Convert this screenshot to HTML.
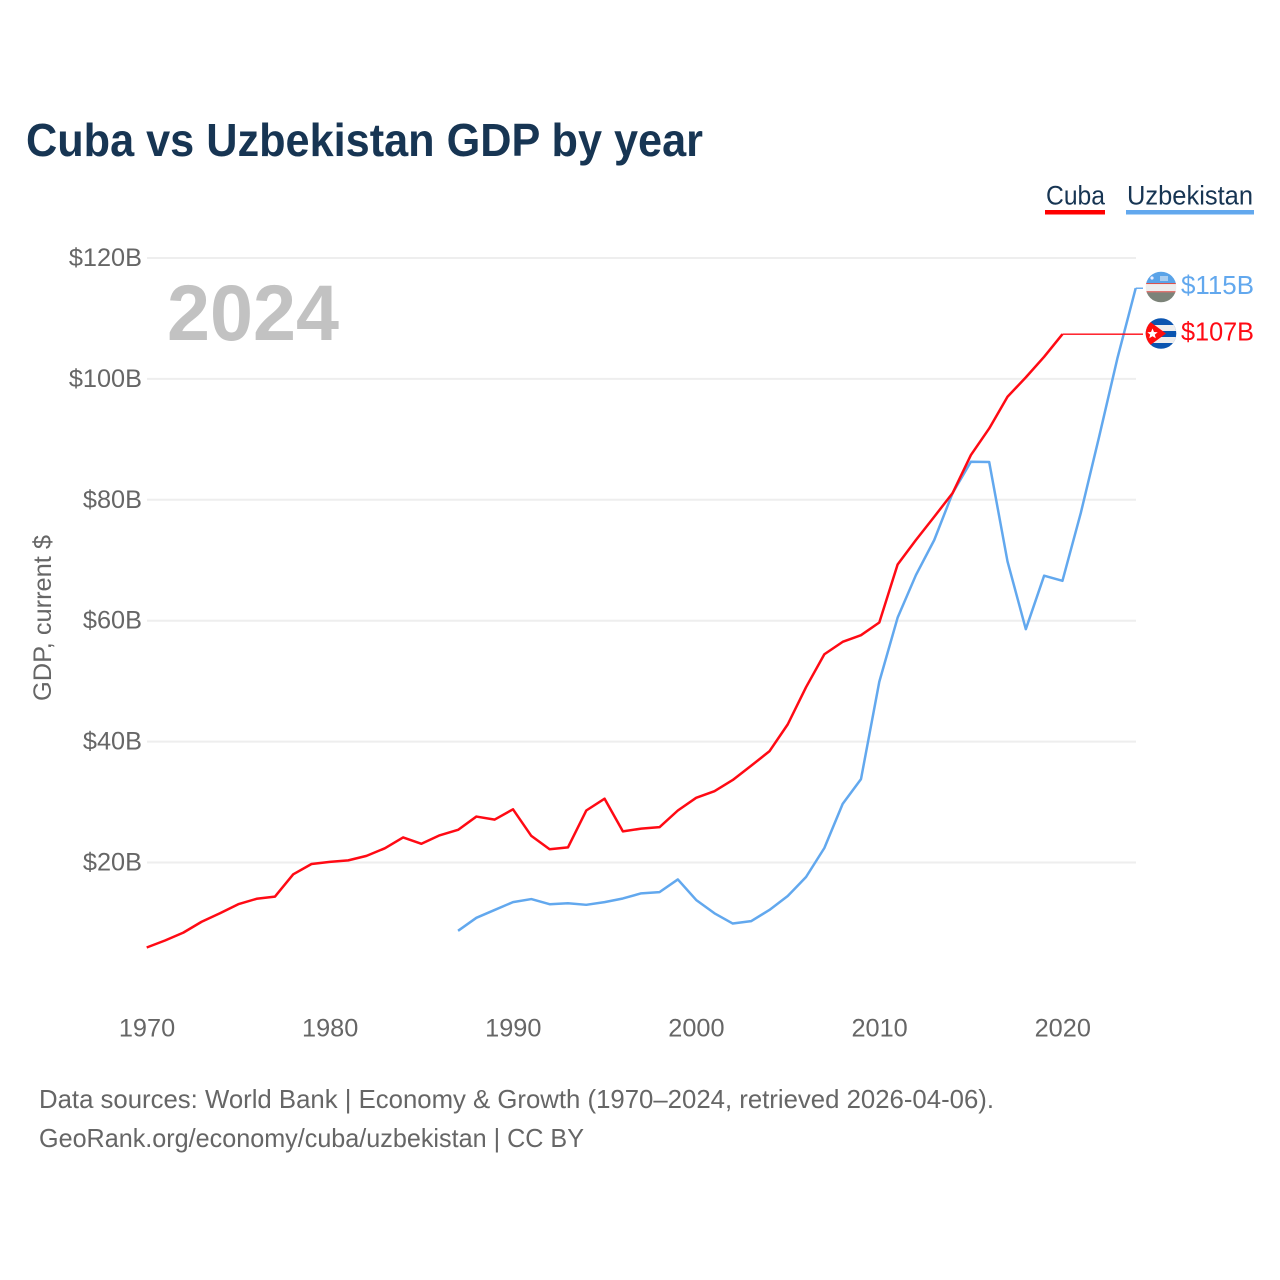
<!DOCTYPE html>
<html lang="en">
<head>
<meta charset="utf-8">
<title>Cuba vs Uzbekistan GDP by year</title>
<style>
html,body{margin:0;padding:0;background:#fff;width:1280px;height:1280px;overflow:hidden}
svg{display:block}
text{font-family:"Liberation Sans",sans-serif}
.tick{font-size:25.3px;fill:#666}
</style>
</head>
<body>
<svg id="chart" xmlns="http://www.w3.org/2000/svg" width="1280" height="1280" viewBox="0 0 1280 1280">
  <defs>
    <clipPath id="clip-uz"><circle cx="1161" cy="287" r="15.3"/></clipPath>
    <clipPath id="clip-cu"><circle cx="1161" cy="333.5" r="15.3"/></clipPath>
  </defs>
  <text x="26" y="156" font-size="46.5" font-weight="700" fill="#173553" textLength="677" lengthAdjust="spacingAndGlyphs">Cuba vs Uzbekistan GDP by year</text>

  <g>
    <text x="1046" y="204.5" font-size="26.5" fill="#173553" textLength="59" lengthAdjust="spacingAndGlyphs">Cuba</text>
    <rect x="1045" y="210" width="60" height="4.5" fill="#ff0000"/>
  </g>
  <g>
    <text x="1127" y="204.5" font-size="26.5" fill="#173553" textLength="126" lengthAdjust="spacingAndGlyphs">Uzbekistan</text>
    <rect x="1126" y="210" width="128" height="4.5" fill="#62a8ee"/>
  </g>

  <g id="grid"></g>
  <g id="yticks"></g>
  <g id="xticks"></g>

  <text x="167" y="340" font-size="79" font-weight="700" fill="#c2c2c2" textLength="172" lengthAdjust="spacingAndGlyphs">2024</text>
  <text transform="translate(51,618) rotate(-90)" text-anchor="middle" font-size="25" fill="#666" textLength="166" lengthAdjust="spacingAndGlyphs">GDP, current $</text>

  <g id="series"></g>

  <g clip-path="url(#clip-uz)">
    <rect x="1145" y="271" width="32" height="12" fill="#5aa3e8"/>
    <rect x="1145" y="283" width="32" height="1.2" fill="#d9534f"/>
    <rect x="1145" y="284.2" width="32" height="7" fill="#eeeeee"/>
    <rect x="1145" y="291.2" width="32" height="1.2" fill="#d9534f"/>
    <rect x="1145" y="292.4" width="32" height="11" fill="#7c8379"/>
    <circle cx="1152" cy="278" r="1.6" fill="#eef"/>
    <rect x="1160" y="276" width="8" height="5" fill="#a9cdf0"/>
  </g>
  <g clip-path="url(#clip-cu)">
    <rect x="1145" y="318" width="32" height="32" fill="#0b55b0"/>
    <rect x="1145" y="325" width="32" height="6" fill="#eeeeee"/>
    <rect x="1145" y="337" width="32" height="6" fill="#eeeeee"/>
    <polygon points="1145,318 1166,333.5 1145,349" fill="#ff0d0d"/>
    <polygon points="1152.5,328.5 1154,332 1157.7,332.2 1154.8,334.6 1155.8,338.2 1152.5,336.2 1149.2,338.2 1150.2,334.6 1147.3,332.2 1151,332" fill="#ffffff"/>
  </g>
  <g id="endlabels"></g>

  <text x="39" y="1108" font-size="26" fill="#666" textLength="955" lengthAdjust="spacingAndGlyphs">Data sources: World Bank | Economy &amp; Growth (1970–2024, retrieved 2026-04-06).</text>
  <a><text x="39" y="1147" font-size="26" fill="#666" textLength="545" lengthAdjust="spacingAndGlyphs">GeoRank.org/economy/cuba/uzbekistan | CC BY</text></a>
</svg>
<script>
const yTickValues = [20, 40, 60, 80, 100, 120];
const xTickYears = [1970, 1980, 1990, 2000, 2010, 2020];
const cubaStartYear = 1970;
const cubaValues = [5.94,7.1,8.4,10.2,11.6,13.1,14.0,14.35,18.05,19.75,20.1,20.35,21.1,22.35,24.15,23.1,24.5,25.4,27.6,27.1,28.8,24.4,22.2,22.5,28.6,30.55,25.15,25.6,25.85,28.6,30.7,31.8,33.65,36.0,38.4,42.85,49.0,54.45,56.5,57.6,59.7,69.3,73.35,77.2,81.1,87.4,91.8,97.05,100.25,103.65,107.4];
const uzbekistanStartYear = 1987;
const uzbekistanValues = [8.7,10.85,12.15,13.45,13.95,13.1,13.25,13.0,13.45,14.05,14.9,15.1,17.2,13.8,11.6,9.9,10.3,12.15,14.45,17.6,22.4,29.7,33.8,49.9,60.5,67.55,73.35,81.1,86.3,86.25,69.8,58.6,67.45,66.6,77.8,90.4,103.4,115.0];
const cubaEndLabel = "$107B";
const uzbekistanEndLabel = "$115B";

const NS = "http://www.w3.org/2000/svg";
function xScale(year){ return 146.7 + (year - 1970) * 18.315; }
function yScale(v){ return 983.4 - v * 6.045; }
function pathFor(values, startYear){
  return values.map(function(v, i){
    return (i ? "L" : "M") + xScale(startYear + i).toFixed(2) + " " + yScale(v).toFixed(2);
  }).join(" ");
}
function make(tag, attrs, parent){
  const el = document.createElementNS(NS, tag);
  Object.keys(attrs).forEach(function(k){ el.setAttribute(k, attrs[k]); });
  parent.appendChild(el);
  return el;
}
const grid = document.getElementById("grid");
const yticks = document.getElementById("yticks");
const xticks = document.getElementById("xticks");
const series = document.getElementById("series");
const endlabels = document.getElementById("endlabels");

yTickValues.forEach(function(v){
  const line = make("line", {x1:147, x2:1136, y1:yScale(v), y2:yScale(v), stroke:"#eeeeee", "stroke-width":2}, grid);
  
  
  const t = make("text", {x:142, y:yScale(v)+8, "text-anchor":"end", "class":"tick"}, yticks);
  
  
  t.textContent = "$" + v + "B";
});
xTickYears.forEach(function(y){
  const t = make("text", {x:xScale(y)+0.3, y:1036.5, "text-anchor":"middle", "class":"tick"}, xticks);
  
  
  t.textContent = y;
});

function drawSeries(values, startYear, color, key, label){
  const lastIndex = values.length - 1;
  const lastX = xScale(startYear + lastIndex);
  const lastY = yScale(values[lastIndex]);
  const labelY = key === "cuba" ? 333.5 : 287;
  const leader = make("path", {d:"M" + lastX + " " + lastY + " L1143 " + lastY, fill:"none", stroke:color, "stroke-width":1.4}, series);
  
  
  const line = make("path", {d:pathFor(values, startYear), fill:"none", stroke:color, "stroke-width":2.5, "stroke-linejoin":"round"}, series);
  
  
  const t = make("text", {x:1254, y:labelY + 7, "text-anchor":"end", "font-size":25.5, fill:color, textLength:73, lengthAdjust:"spacingAndGlyphs"}, endlabels);
  
  
  t.textContent = label;
}
drawSeries(uzbekistanValues, uzbekistanStartYear, "#62a8ee", "uzbekistan", uzbekistanEndLabel);
drawSeries(cubaValues, cubaStartYear, "#ff0a14", "cuba", cubaEndLabel);
</script>
</body>
</html>
